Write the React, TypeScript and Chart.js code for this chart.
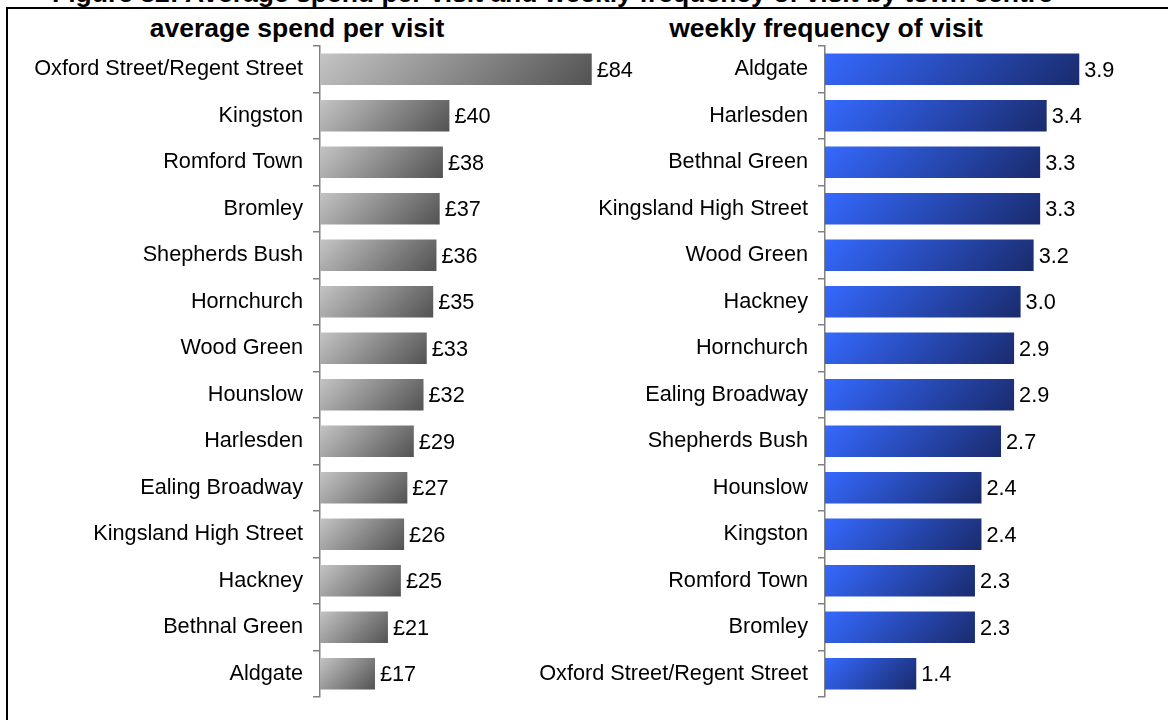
import React, { useEffect, useRef } from 'react';
import { Chart, registerables } from 'chart.js';

Chart.register(...registerables);

const figureTitle = 'Figure 32: Average spend per visit and weekly frequency of visit by town centre';
const spendTitle = 'average spend per visit';
const freqTitle = 'weekly frequency of visit';

const spendTowns = [
  'Oxford Street/Regent Street',
  'Kingston',
  'Romford Town',
  'Bromley',
  'Shepherds Bush',
  'Hornchurch',
  'Wood Green',
  'Hounslow',
  'Harlesden',
  'Ealing Broadway',
  'Kingsland High Street',
  'Hackney',
  'Bethnal Green',
  'Aldgate',
];
const spendValues = [84, 40, 38, 37, 36, 35, 33, 32, 29, 27, 26, 25, 21, 17];

const freqTowns = [
  'Aldgate',
  'Harlesden',
  'Bethnal Green',
  'Kingsland High Street',
  'Wood Green',
  'Hackney',
  'Hornchurch',
  'Ealing Broadway',
  'Shepherds Bush',
  'Hounslow',
  'Kingston',
  'Romford Town',
  'Bromley',
  'Oxford Street/Regent Street',
];
const freqValues = [3.9, 3.4, 3.3, 3.3, 3.2, 3.0, 2.9, 2.9, 2.7, 2.4, 2.4, 2.3, 2.3, 1.4];

const FONT = '"Liberation Sans", Arial, Helvetica, sans-serif';

type Cfg = {
  labels: string[];
  values: number[];
  max: number;
  axisWidth: number;
  padRight: number;
  light: string;
  dark: string;
  fmt: (v: number) => string;
};

const barPct = 0.68;

function makeChart(canvas: HTMLCanvasElement, c: Cfg) {
  const labelPlugin = {
    id: 'valueLabels',
    afterDatasetsDraw(chart: any) {
      const ctx = chart.ctx;
      const meta = chart.getDatasetMeta(0);
      ctx.save();
      ctx.font = `21.7px ${FONT}`;
      ctx.fillStyle = '#000';
      ctx.textAlign = 'left';
      ctx.textBaseline = 'middle';
      meta.data.forEach((el: any, i: number) => {
        ctx.fillText(c.fmt(c.values[i]), el.x + 5, el.y + 1.5);
      });
      ctx.restore();
    },
  };

  return new Chart(canvas, {
    type: 'bar',
    data: {
      labels: c.labels,
      datasets: [
        {
          data: c.values,
          categoryPercentage: 1,
          barPercentage: barPct,
          borderWidth: 0,
          backgroundColor: (ctx: any) => {
            const chart = ctx.chart;
            if (!chart.chartArea || ctx.type !== 'data') return c.light;
            const xs = chart.scales.x;
            const ys = chart.scales.y;
            const x0 = xs.getPixelForValue(0);
            const x1 = xs.getPixelForValue(ctx.raw);
            const yc = ys.getPixelForValue(ctx.dataIndex);
            const band = chart.chartArea.height / c.labels.length;
            const h = band * barPct;
            const w = x1 - x0;
            const d = (w + h) / 2;
            const yTop = yc - h / 2;
            const g = chart.ctx.createLinearGradient(x0, yTop, x0 + d, yTop + d);
            g.addColorStop(0, c.light);
            g.addColorStop(1, c.dark);
            return g;
          },
        },
      ],
    },
    options: {
      indexAxis: 'y',
      responsive: false,
      maintainAspectRatio: false,
      animation: false,
      events: [],
      layout: { padding: { top: 46, bottom: 21.5, left: 0, right: c.padRight } },
      plugins: {
        legend: { display: false },
        tooltip: { enabled: false },
        title: { display: false },
      },
      scales: {
        x: {
          display: false,
          min: 0,
          max: c.max,
        },
        y: {
          afterFit: (scale: any) => {
            scale.width = c.axisWidth;
          },
          grid: {
            offset: true,
            drawOnChartArea: false,
            drawTicks: true,
            tickLength: 7,
            color: '#808080',
            lineWidth: 1.5,
          },
          border: { display: true, color: '#808080', width: 1.5 },
          ticks: {
            padding: 10,
            color: '#000',
            font: { family: FONT, size: 21.7 },
            autoSkip: false,
          },
        },
      },
    },
    plugins: [labelPlugin],
  } as any);
}

function BarPanel(props: { cfg: Cfg; left: number; width: number }) {
  const ref = useRef<HTMLCanvasElement | null>(null);
  useEffect(() => {
    if (!ref.current) return;
    const chart = makeChart(ref.current, props.cfg);
    return () => chart.destroy();
  }, []);
  return (
    <div style={{ position: 'absolute', left: props.left, top: 0, width: props.width, height: 720 }}>
      <canvas ref={ref} width={props.width} height={720} style={{ display: 'block' }} />
    </div>
  );
}

const titleStyle: React.CSSProperties = {
  position: 'absolute',
  fontFamily: FONT,
  fontWeight: 'bold',
  fontSize: 26.5,
  lineHeight: '26.5px',
  whiteSpace: 'nowrap',
  color: '#000',
};

export default function App() {
  const spendCfg: Cfg = {
    labels: spendTowns,
    values: spendValues,
    max: 100,
    axisWidth: 320,
    padRight: 6.5,
    light: '#c4c4c4',
    dark: '#525252',
    fmt: (v) => '£' + v,
  };
  const freqCfg: Cfg = {
    labels: freqTowns,
    values: freqValues,
    max: 5,
    axisWidth: 305,
    padRight: 17,
    light: '#3569ff',
    dark: '#1a2b6c',
    fmt: (v) => v.toFixed(1),
  };
  return (
    <div
      style={{
        position: 'absolute',
        left: 0,
        top: 0,
        width: 1168,
        height: 720,
        overflow: 'hidden',
        background: '#fff',
      }}
    >
      <div style={{ ...titleStyle, left: 52, top: -20.5 }}>{figureTitle}</div>
      <div style={{ position: 'absolute', left: 6, top: 7, width: 1162, height: 2, background: '#000' }} />
      <div style={{ position: 'absolute', left: 6, top: 7, width: 2, height: 713, background: '#000' }} />
      <div style={{ ...titleStyle, left: 0, width: 594, textAlign: 'center', top: 15 }}>{spendTitle}</div>
      <div style={{ ...titleStyle, left: 526, width: 600, textAlign: 'center', top: 15 }}>{freqTitle}</div>
      <BarPanel cfg={spendCfg} left={0} width={650} />
      <BarPanel cfg={freqCfg} left={520} width={648} />
    </div>
  );
}
